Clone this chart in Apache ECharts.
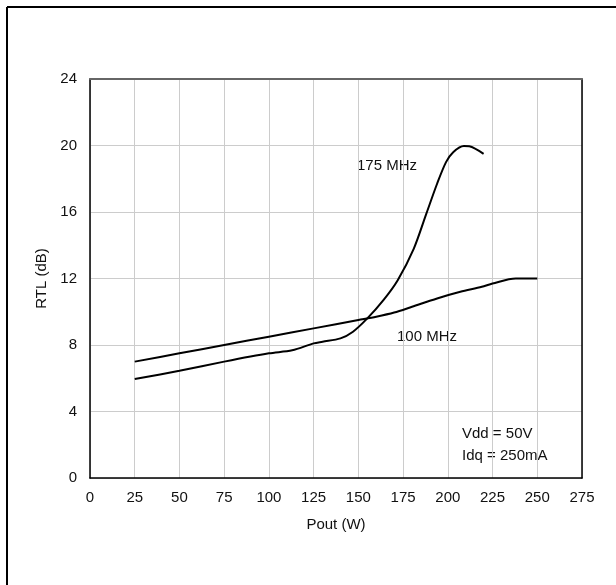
<!DOCTYPE html>
<html>
<head>
<meta charset="utf-8">
<script src="https://cdn.jsdelivr.net/npm/echarts@6/dist/echarts.min.js"></script>
<style>
html,body{margin:0;padding:0;background:#fff;}
#c{width:616px;height:585px;}
</style>
</head>
<body>
<div id="c"></div>
<script>
const xTicks = [0, 25, 50, 75, 100, 125, 150, 175, 200, 225, 250, 275];
const yTicks = [0, 4, 8, 12, 16, 20, 24];

const pout100 = [25, 50, 75, 100, 125, 150, 160, 170, 180, 194, 207, 219, 225, 238, 250];
const rtl100  = [7.0, 7.5, 8.0, 8.5, 9.0, 9.5, 9.7, 9.95, 10.3, 10.8, 11.2, 11.5, 11.7, 12.0, 12.0];

const pout175 = [25, 50, 75, 100, 113, 125, 130, 140, 147, 155, 164, 172, 181, 188, 194, 199, 203, 209, 212, 220];
const rtl175  = [5.95, 6.45, 7.0, 7.5, 7.68, 8.1, 8.2, 8.4, 8.8, 9.6, 10.7, 11.9, 13.8, 15.9, 17.7, 19.0, 19.6, 19.97, 19.95, 19.5];

const seriesNames = ['100 MHz', '175 MHz'];
const noteLines = ['Vdd = 50V', 'Idq = 250mA'];

const chart = echarts.init(document.getElementById('c'));
const font = 'Liberation Sans, Arial, sans-serif';
const pair = (xs, ys) => xs.map((x, i) => [x, ys[i]]);

chart.setOption({
  animation: false,
  backgroundColor: '#fff',
  grid: { left: 90, top: 79, width: 492, height: 399, show: false },
  xAxis: [{
    type: 'value', min: 0, max: 275, interval: 25,
    name: 'Pout (W)', nameLocation: 'middle', nameGap: 39,
    nameTextStyle: { fontFamily: font, fontSize: 15, color: '#111' },
    axisLine: { show: true, onZero: false, lineStyle: { color: '#000', width: 1.5 } },
    axisTick: { show: false },
    axisLabel: { fontFamily: font, fontSize: 15, color: '#111', margin: 12 },
    splitLine: { show: true, lineStyle: { color: '#cccccc', width: 1 } }
  }, {
    type: 'value', min: 0, max: 275, interval: 25, position: 'top',
    axisLine: { show: true, onZero: false, lineStyle: { color: '#666', width: 2 } },
    axisTick: { show: false }, axisLabel: { show: false }, splitLine: { show: false }
  }],
  yAxis: [{
    type: 'value', min: 0, max: 24, interval: 4,
    name: 'RTL (dB)', nameLocation: 'middle', nameGap: 40, nameRotate: 90,
    nameTextStyle: { fontFamily: font, fontSize: 15, color: '#111' },
    axisLine: { show: true, onZero: false, lineStyle: { color: '#000', width: 1.5 } },
    axisTick: { show: false },
    axisLabel: { fontFamily: font, fontSize: 15, color: '#111', margin: 13 },
    splitLine: { show: true, lineStyle: { color: '#cccccc', width: 1 } }
  }, {
    type: 'value', min: 0, max: 24, interval: 4, position: 'right',
    axisLine: { show: true, onZero: false, lineStyle: { color: '#000', width: 1.5 } },
    axisTick: { show: false }, axisLabel: { show: false }, splitLine: { show: false }
  }],
  series: [{
    name: seriesNames[0], type: 'line', smooth: 0.3, symbol: 'none',
    data: pair(pout100, rtl100),
    lineStyle: { color: '#000', width: 2 }
  }, {
    name: seriesNames[1], type: 'line', smooth: 0.3, symbol: 'none',
    data: pair(pout175, rtl175),
    lineStyle: { color: '#000', width: 2 }
  }],
  graphic: [
    { type: 'line', shape: { x1: 7, y1: 7, x2: 616, y2: 7 }, style: { stroke: '#000', lineWidth: 2 } },
    { type: 'line', shape: { x1: 7, y1: 7, x2: 7, y2: 585 }, style: { stroke: '#000', lineWidth: 2 } },
    { type: 'text', left: 355, top: 157, style: { text: seriesNames[1], font: '15px ' + font, fill: '#111', backgroundColor: '#fff', padding: [1, 2] } },
    { type: 'text', left: 395, top: 328, style: { text: seriesNames[0], font: '15px ' + font, fill: '#111', backgroundColor: '#fff', padding: [1, 2] } },
    { type: 'text', left: 460, top: 425, style: { text: noteLines[0], font: '15px ' + font, fill: '#111', backgroundColor: '#fff', padding: [1, 2] } },
    { type: 'text', left: 460, top: 447, style: { text: noteLines[1], font: '15px ' + font, fill: '#111', backgroundColor: '#fff', padding: [1, 2] } }
  ]
});
</script>
</body>
</html>
